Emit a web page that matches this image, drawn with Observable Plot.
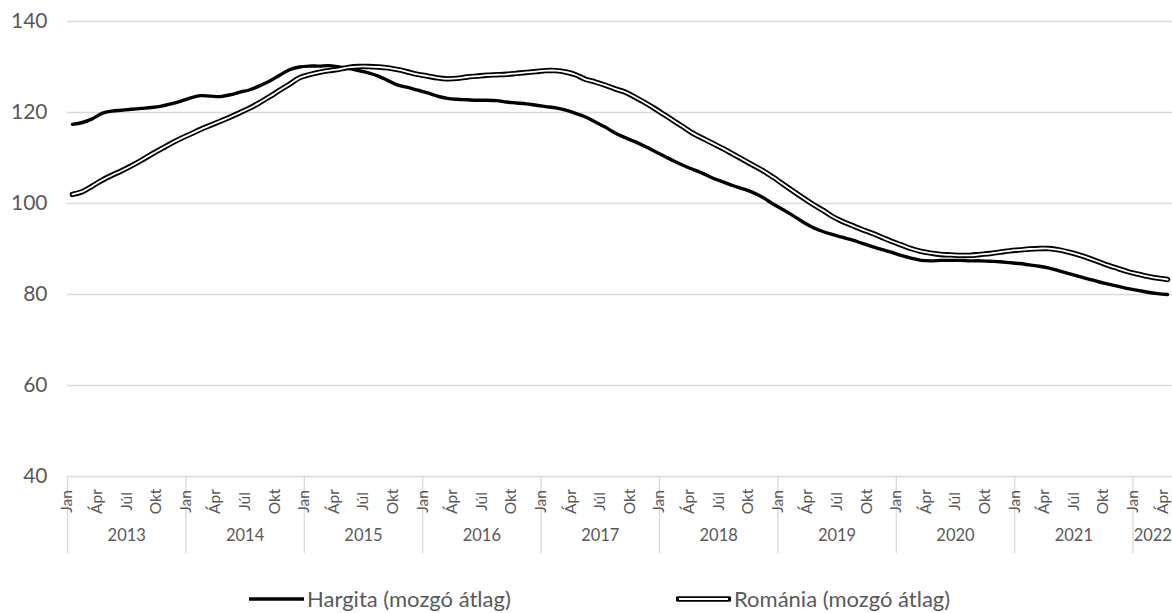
<!DOCTYPE html>
<html>
<head>
<meta charset="utf-8">
<script src="https://cdn.jsdelivr.net/npm/d3@7"></script>
<script src="https://cdn.jsdelivr.net/npm/@observablehq/plot@0.6"></script>
<style>
  html, body { margin: 0; padding: 0; background: #fff; }
  #wrap { width: 1172px; font-family: Lato, "Open Sans", sans-serif; }
  #legend { position: relative; width: 1172px; height: 53px; color: #595959; font-size: 22px; }
  .item { position: absolute; top: 25px; display: flex; align-items: center; white-space: nowrap; }
  .item svg { display: block; margin-right: 3px; }
</style>
</head>
<body>
<div id="wrap"><div id="chart"></div><div id="legend"></div></div>
<script>
// Month tick labels (every third month) and years
const monthNames = ["Jan", "Ápr", "Júl", "Okt"];
const years = [2013, 2014, 2015, 2016, 2017, 2018, 2019, 2020, 2021, 2022];
const yTicks = [40, 60, 80, 100, 120, 140];
const seriesNames = ["Hargita (mozgó átlag)", "Románia (mozgó átlag)"];

// Monthly values, Jan 2013 – Apr 2022
const hargita = [
  117.4, 117.8, 118.6, 119.8, 120.3, 120.5, 120.7, 120.9, 121.1, 121.4, 121.9, 122.5,
  123.2, 123.7, 123.6, 123.5, 123.9, 124.5, 125.0, 125.9, 126.9, 128.2, 129.4, 130.0,
  130.2, 130.2, 130.3, 130.0, 129.7, 129.2, 128.7, 128.0, 127.0, 126.0, 125.5, 124.9,
  124.3, 123.6, 123.1, 122.9, 122.8, 122.7, 122.7, 122.6, 122.3, 122.1, 121.9, 121.6,
  121.3, 121.0, 120.5, 119.8, 119.0, 117.9, 116.8, 115.5, 114.5, 113.6, 112.6, 111.5,
  110.4, 109.3, 108.3, 107.4, 106.5, 105.5, 104.7, 103.9, 103.2, 102.4, 101.3, 99.9,
  98.7, 97.4, 96.0, 94.8, 93.9, 93.2, 92.6, 92.0, 91.3, 90.6, 89.9, 89.3,
  88.6, 88.0, 87.5, 87.4, 87.5, 87.5, 87.5, 87.4, 87.4, 87.3, 87.2, 87.0,
  86.8, 86.5, 86.2, 85.8, 85.2, 84.6, 84.0, 83.4, 82.8, 82.3, 81.8, 81.3,
  80.9, 80.5, 80.2, 80.0
];
const romania = [
  102.0, 102.6, 103.8, 105.1, 106.2, 107.2, 108.3, 109.5, 110.8, 112.0, 113.2, 114.3,
  115.3, 116.3, 117.2, 118.1, 119.0, 120.0, 121.0, 122.2, 123.5, 124.9, 126.2, 127.6,
  128.3, 128.8, 129.2, 129.5, 129.9, 130.1, 130.1, 130.0, 129.8, 129.4, 128.9, 128.4,
  128.0, 127.6, 127.4, 127.5, 127.8, 128.0, 128.2, 128.3, 128.4, 128.6, 128.8, 129.0,
  129.2, 129.2, 128.9, 128.3, 127.3, 126.7, 126.0, 125.2, 124.5, 123.4, 122.2, 120.9,
  119.5, 118.1, 116.7, 115.3, 114.2, 113.1, 112.0, 110.8, 109.6, 108.4, 107.2, 105.8,
  104.3, 102.8, 101.3, 99.9, 98.6, 97.2, 96.1, 95.2, 94.3, 93.5, 92.6, 91.7,
  90.9, 90.1, 89.5, 89.1, 88.8, 88.7, 88.6, 88.6, 88.8, 89.0, 89.3, 89.6,
  89.8, 90.0, 90.1, 90.1, 89.8, 89.3, 88.7, 88.0, 87.2, 86.4, 85.7, 85.0,
  84.5, 84.0, 83.6, 83.3
];

// Build tables
const nMonths = hargita.length;
const rows = d3.range(nMonths).map(i => ({i, h: hargita[i], r: romania[i]}));
const monthTicks = d3.range(nMonths).filter(i => i % 3 === 0)
  .map(i => ({i, label: monthNames[(i % 12) / 3]}));
const yearLabels = years.map((y, k) => {
  const start = k * 12;
  const end = Math.min(start + 12, nMonths);
  return {x: (start + end - 1) / 2, label: String(y)};
});
const yearBounds = years.map((y, k) => k * 12 - 0.5);

const gray = "#595959";
const grid = "#d9d9d9";

const chart = Plot.plot({
  width: 1172,
  height: 560,
  marginTop: 21,
  marginBottom: 84,
  marginLeft: 67,
  marginRight: 0,
  style: {fontFamily: "Lato, 'Open Sans', sans-serif", background: "#fff", color: gray},
  x: {type: "linear", domain: [-0.5, nMonths - 0.5]},
  y: {domain: [40, 140]},
  marks: [
    Plot.gridY(yTicks, {stroke: grid, strokeOpacity: 1, strokeWidth: 1.3}),
    Plot.axisY(yTicks, {tickSize: 0, tickPadding: 20, fontSize: 21, fill: gray, label: null}),
    Plot.axisX(yearBounds, {tickSize: 77, tickFormat: () => "", stroke: grid, strokeWidth: 1.3, strokeOpacity: 1, label: null}),
    Plot.text(monthTicks, {x: "i", text: "label", frameAnchor: "bottom", dy: 25, rotate: -90, textAnchor: "middle", fontSize: 15.5, fill: gray}),
    Plot.text(yearLabels, {x: "x", text: "label", frameAnchor: "bottom", dy: 64, fontSize: 16.5, fill: gray}),
    Plot.line(rows, {x: "i", y: "h", stroke: "#000", strokeWidth: 3.4, curve: "catmull-rom"}),
    Plot.line(rows, {x: "i", y: "r", stroke: "#000", strokeWidth: 5.4, curve: "catmull-rom"}),
    Plot.line(rows, {x: "i", y: "r", stroke: "#fff", strokeWidth: 1.8, curve: "catmull-rom"})
  ]
});
document.getElementById("chart").appendChild(chart);

// Legend
const legend = document.getElementById("legend");
const items = [
  {left: 249, name: seriesNames[0], swatch: '<svg width="55" height="10"><line x1="0" y1="5" x2="55" y2="5" stroke="#000" stroke-width="3.4"/></svg>'},
  {left: 676, name: seriesNames[1], swatch: '<svg width="55" height="10"><line x1="2" y1="5" x2="53" y2="5" stroke="#000" stroke-width="5.4" stroke-linecap="round"/><line x1="3" y1="5" x2="52" y2="5" stroke="#fff" stroke-width="1.8"/></svg>'}
];
for (const it of items) {
  const div = document.createElement("div");
  div.className = "item";
  div.style.left = it.left + "px";
  div.innerHTML = it.swatch + "<span>" + it.name + "</span>";
  legend.appendChild(div);
}
</script>
</body>
</html>
